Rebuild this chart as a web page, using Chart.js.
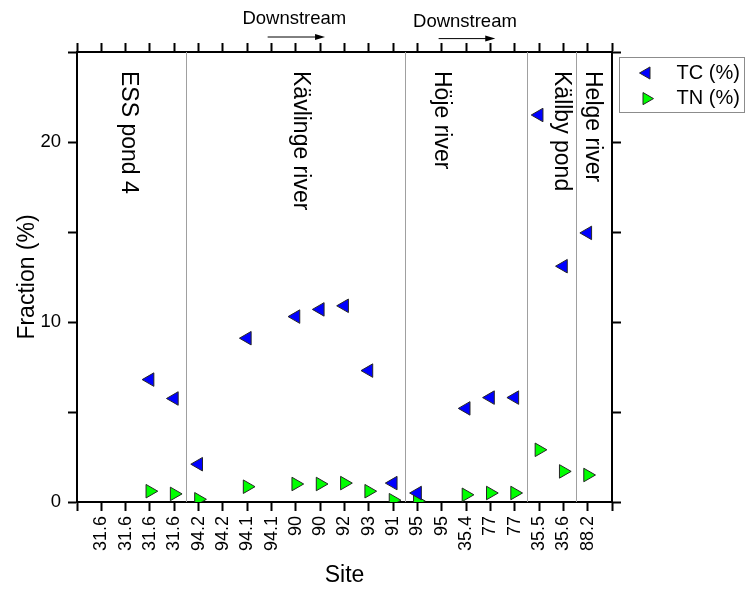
<!DOCTYPE html>
<html>
<head>
<meta charset="utf-8">
<script src="https://cdn.jsdelivr.net/npm/chart.js@4.4.1/dist/chart.umd.min.js"></script>
<style>
  html, body { margin: 0; padding: 0; background: #fff; }
  #wrap { width: 747px; height: 590px; }
</style>
</head>
<body>
<div id="wrap"><canvas id="chart" width="747" height="590"></canvas></div>
<script>
// 数据：站点（x = 1..21）与两组测量值
const sites = ['31.6', '31.6', '31.6', '31.6', '94.2', '94.2', '94.1', '94.1', '90', '90', '92',
               '93', '91', '95', '95', '35.4', '77', '77', '35.5', '35.6', '88.2'];
const tcValues = [null, null, 6.8, 5.75, 2.1, null, 9.1, null, 10.3, 10.7, 10.9,
                  7.3, 1.05, 0.5, null, 5.2, 5.8, 5.8, 21.5, 13.1, 14.95];
const tnValues = [null, null, 0.6, 0.45, 0.15, null, 0.85, null, 1.0, 1.0, 1.05,
                  0.6, 0.1, 0.05, null, 0.4, 0.5, 0.5, 2.9, 1.7, 1.5];
const yLabelTicks = [0, 10, 20];

// 分区标注
const sectionNames = ['ESS pond 4', 'Kävlinge river', 'Höje river', 'Källby pond', 'Helge river'];
const sectionPos = [2.1, 9.2, 15.0, 19.9, 21.2];
const dividerPos = [4.5, 13.5, 18.5, 20.5];
const arrowFrom = [7.84, 14.87];
const arrowTo = [10.2, 17.2];

const FONT = "'Liberation Sans', Arial, sans-serif";
Chart.defaults.font.family = FONT;
Chart.defaults.color = '#000';

function toPoints(values) {
    return values.map((v, i) => ({ x: i + 1, y: v })).filter(p => p.y !== null);
}

// 与 Chart.js 相同几何的三角形（图例用）
function drawTri(ctx, x, y, r, rotDeg, fill, stroke) {
    let rad = rotDeg * Math.PI / 180;
    ctx.beginPath();
    for (let k = 0; k < 3; k++) {
        const px = x + Math.sin(rad) * r, py = y - Math.cos(rad) * r;
        if (k === 0) ctx.moveTo(px, py); else ctx.lineTo(px, py);
        rad += 2 * Math.PI / 3;
    }
    ctx.closePath();
    ctx.fillStyle = fill;
    ctx.fill();
    ctx.lineWidth = 1;
    ctx.strokeStyle = stroke;
    ctx.stroke();
}

// 分隔线与分区名称
const sectionPlugin = {
    id: 'sections',
    beforeDatasetsDraw(chart) {
        const { ctx, chartArea, scales } = chart;
        ctx.save();
        ctx.strokeStyle = '#a0a0a0';
        ctx.lineWidth = 1;
        dividerPos.forEach(v => {
            const px = Math.round(scales.x.getPixelForValue(v)) + 0.5;
            ctx.beginPath();
            ctx.moveTo(px, chartArea.top);
            ctx.lineTo(px, chartArea.bottom);
            ctx.stroke();
        });
        ctx.fillStyle = '#000';
        ctx.font = '23px ' + FONT;
        ctx.textAlign = 'left';
        ctx.textBaseline = 'middle';
        sectionNames.forEach((name, i) => {
            const px = scales.x.getPixelForValue(sectionPos[i]);
            const py = chartArea.top + 19;
            ctx.save();
            ctx.translate(px, py);
            ctx.rotate(Math.PI / 2);
            ctx.fillText(name, 0, 0);
            ctx.restore();
        });
        ctx.restore();
    },
    afterDraw(chart) {
        const { ctx, chartArea, scales } = chart;
        ctx.save();
        // Downstream 箭头
        ctx.font = '18.5px ' + FONT;
        ctx.textAlign = 'center';
        ctx.textBaseline = 'middle';
        ctx.fillStyle = '#000';
        ctx.strokeStyle = '#000';
        ctx.lineWidth = 1;
        arrowFrom.forEach((a, i) => {
            const x1 = scales.x.getPixelForValue(a);
            const x2 = scales.x.getPixelForValue(arrowTo[i]);
            const ay = chartArea.top - 15 + i * 1.6;
            ctx.fillText('Downstream', (x1 + x2) / 2 - 2, ay - 18.5 + i * 1.5);
            ctx.beginPath();
            ctx.moveTo(x1, ay);
            ctx.lineTo(x2 - 8, ay);
            ctx.stroke();
            ctx.beginPath();
            ctx.moveTo(x2, ay);
            ctx.lineTo(x2 - 10, ay - 3);
            ctx.lineTo(x2 - 10, ay + 3);
            ctx.closePath();
            ctx.fill();
        });
        // 图例
        const x0 = Math.round(chartArea.right) + 7.5;
        const y0 = Math.round(chartArea.top) + 5.5;
        ctx.strokeStyle = '#8c8c8c';
        ctx.strokeRect(x0, y0, 125, 55);
        ctx.font = '20px ' + FONT;
        ctx.textAlign = 'left';
        chart.data.datasets.forEach((ds, i) => {
            const cy = y0 + 15.5 + i * 25.6;
            drawTri(ctx, x0 + 27, cy, 7, ds.pointRotation, ds.backgroundColor, ds.borderColor);
            ctx.fillStyle = '#000';
            ctx.fillText(ds.label, x0 + 57, cy);
        });
        ctx.restore();
    }
};

const axisGrid = { drawOnChartArea: false, tickLength: 9, tickWidth: 2, color: '#000' };
const axisBorder = { color: '#000', width: 2 };

new Chart(document.getElementById('chart').getContext('2d'), {
    type: 'scatter',
    data: {
        datasets: [
            {
                label: 'TC (%)',
                data: toPoints(tcValues),
                pointStyle: 'triangle',
                pointRotation: -90,
                pointRadius: 7.8,
                backgroundColor: '#0000ff',
                borderColor: '#262626',
                borderWidth: 1
            },
            {
                label: 'TN (%)',
                data: toPoints(tnValues),
                pointStyle: 'triangle',
                pointRotation: 90,
                pointRadius: 7.8,
                backgroundColor: '#00ff00',
                borderColor: '#262626',
                borderWidth: 1
            }
        ]
    },
    options: {
        responsive: false,
        animation: false,
        events: [],
        layout: { padding: 0 },
        plugins: { legend: { display: false }, tooltip: { enabled: false } },
        scales: {
            x: {
                type: 'linear',
                position: 'bottom',
                min: 0,
                max: 22,
                ticks: {
                    stepSize: 1,
                    autoSkip: false,
                    minRotation: 90,
                    maxRotation: 90,
                    padding: 5,
                    font: { size: 18 },
                    callback: v => sites[v - 1] || ''
                },
                grid: axisGrid,
                border: axisBorder,
                title: { display: true, text: 'Site', font: { size: 23 }, padding: { top: 0, bottom: 1 } },
                afterFit: s => { s.height = 88; }
            },
            xTop: {
                type: 'linear',
                position: 'top',
                min: 0,
                max: 22,
                ticks: { stepSize: 1, display: false },
                grid: axisGrid,
                border: axisBorder,
                afterFit: s => { s.height = 52; }
            },
            y: {
                min: 0,
                max: 25,
                ticks: {
                    stepSize: 5,
                    padding: 7,
                    font: { size: 18.5 },
                    callback: v => yLabelTicks.includes(v) ? String(v) : ''
                },
                grid: axisGrid,
                border: axisBorder,
                title: { display: true, text: 'Fraction (%)', font: { size: 23 }, padding: { top: 14, bottom: 0 } },
                afterFit: s => { s.width = 77; }
            },
            yRight: {
                position: 'right',
                min: 0,
                max: 25,
                ticks: { stepSize: 5, display: false },
                grid: axisGrid,
                border: axisBorder,
                afterFit: s => { s.width = 135; }
            }
        }
    },
    plugins: [sectionPlugin]
});
</script>
</body>
</html>
